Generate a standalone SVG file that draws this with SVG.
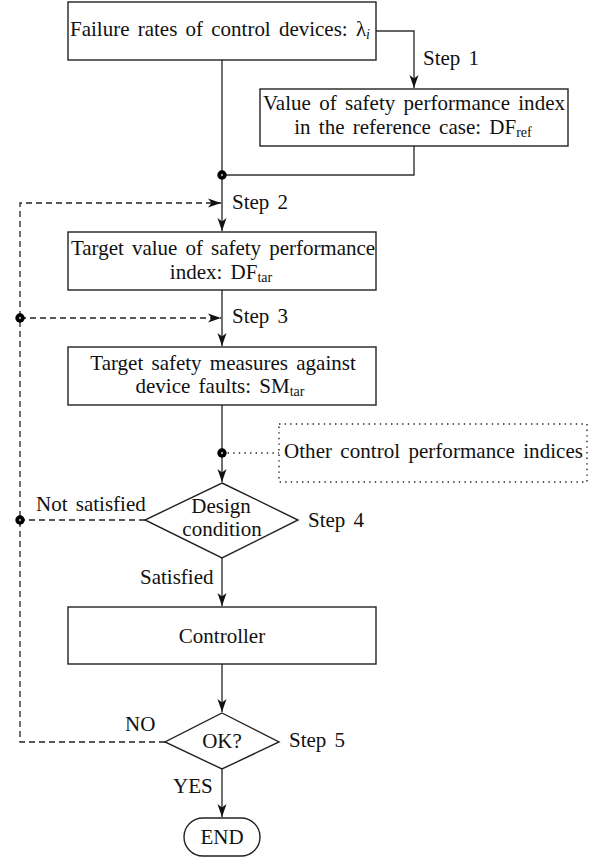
<svg xmlns="http://www.w3.org/2000/svg" width="600" height="859" viewBox="0 0 600 859" font-family="Liberation Serif, serif">
<style>
text{font-family:'Liberation Serif',serif;font-size:21px;fill:#111;word-spacing:3px}
.m{text-anchor:middle}
.sub{font-size:14px}
.box{fill:#fff;stroke:#222;stroke-width:1.4}
.ln{fill:none;stroke:#333;stroke-width:1.4}
.da{fill:none;stroke:#222;stroke-width:1.3;stroke-dasharray:6 4}
.dt{fill:none;stroke:#222;stroke-width:1.4;stroke-dasharray:1.4 4.2}
.dot{fill:#000}
.dc{fill:#999}
</style>
<defs>
<marker id="ar" markerUnits="userSpaceOnUse" markerWidth="16" markerHeight="12" viewBox="-14 -6 15 12" refX="0" refY="0" orient="auto">
<path d="M0,0 L-13,-4.5 L-9.5,0 L-13,4.5 Z" fill="#111"/>
</marker>
</defs>
<g id="connectors">
<path class="ln" d="M376,31 H414 V88" marker-end="url(#ar)"/>
<path class="ln" d="M414,146 V175 H222"/>
<path class="ln" d="M222,60 V231" marker-end="url(#ar)"/>
<path class="da" d="M165,742 H20 V203 H221" marker-end="url(#ar)"/>
<path class="da" d="M20,318 H221" marker-end="url(#ar)"/>
<path class="da" d="M145,520 H20"/>
<path class="ln" d="M222,290 V346" marker-end="url(#ar)"/>
<path class="ln" d="M222,405 V482" marker-end="url(#ar)"/>
<path class="dt" d="M222,453 H279"/>
<path class="ln" d="M222,558 V606" marker-end="url(#ar)"/>
<path class="ln" d="M222,664 V712" marker-end="url(#ar)"/>
<path class="ln" d="M222,769 V817" marker-end="url(#ar)"/>
<circle class="dot" cx="222" cy="175" r="4.7"/><circle class="dc" cx="222" cy="175" r="1.2"/>
<circle class="dot" cx="20" cy="318" r="4.7"/><circle class="dc" cx="20" cy="318" r="1.2"/>
<circle class="dot" cx="20" cy="520" r="4.7"/><circle class="dc" cx="20" cy="520" r="1.2"/>
<circle class="dot" cx="222" cy="453" r="4.7"/><circle class="dc" cx="222" cy="453" r="1.2"/>
<text x="423" y="65">Step 1</text>
<text x="232" y="209">Step 2</text>
<text x="232" y="323">Step 3</text>
<text x="308" y="527">Step 4</text>
<text x="289" y="747">Step 5</text>
<text x="36" y="511">Not satisfied</text>
<text x="140" y="584">Satisfied</text>
<text x="125" y="731">NO</text>
<text x="173" y="793">YES</text>
</g>
<g id="n1">
<rect class="box" x="68" y="2" width="308" height="58"/>
<text x="70" y="36" textLength="300" lengthAdjust="spacing">Failure rates of control devices: λ<tspan class="sub" font-style="italic" dy="3">i</tspan></text>
</g>
<g id="n2">
<rect class="box" x="260" y="89" width="308" height="57"/>
<text x="263" y="110" textLength="302" lengthAdjust="spacing">Value of safety performance index</text>
<text class="m" x="413" y="134">in the reference case: DF<tspan class="sub" dy="3">ref</tspan></text>
</g>
<g id="n3">
<rect class="box" x="68" y="232" width="308" height="58"/>
<text x="71" y="255" textLength="304" lengthAdjust="spacing">Target value of safety performance</text>
<text class="m" x="221" y="279">index: DF<tspan class="sub" dy="3">tar</tspan></text>
</g>
<g id="n4">
<rect class="box" x="68" y="347" width="308" height="58"/>
<text class="m" x="223" y="370">Target safety measures against</text>
<text class="m" x="220" y="393">device faults: SM<tspan class="sub" dy="3">tar</tspan></text>
</g>
<g id="n5">
<rect class="dt" x="279" y="424" width="308" height="58"/>
<text x="284" y="458" textLength="299" lengthAdjust="spacing">Other control performance indices</text>
</g>
<g id="n6">
<path class="box" d="M222,483 L298,520 L222,558 L145,520 Z"/>
<text class="m" x="221" y="513">Design</text>
<text class="m" x="222" y="536">condition</text>
</g>
<g id="n7">
<rect class="box" x="68" y="607" width="308" height="57"/>
<text class="m" x="222" y="643">Controller</text>
</g>
<g id="n8">
<path class="box" d="M222,713 L279,742 L222,769 L165,742 Z"/>
<text class="m" x="222" y="748">OK?</text>
</g>
<g id="n9">
<rect class="box" x="184" y="818" width="76" height="38" rx="19"/>
<text class="m" x="222" y="844">END</text>
</g>
</svg>
